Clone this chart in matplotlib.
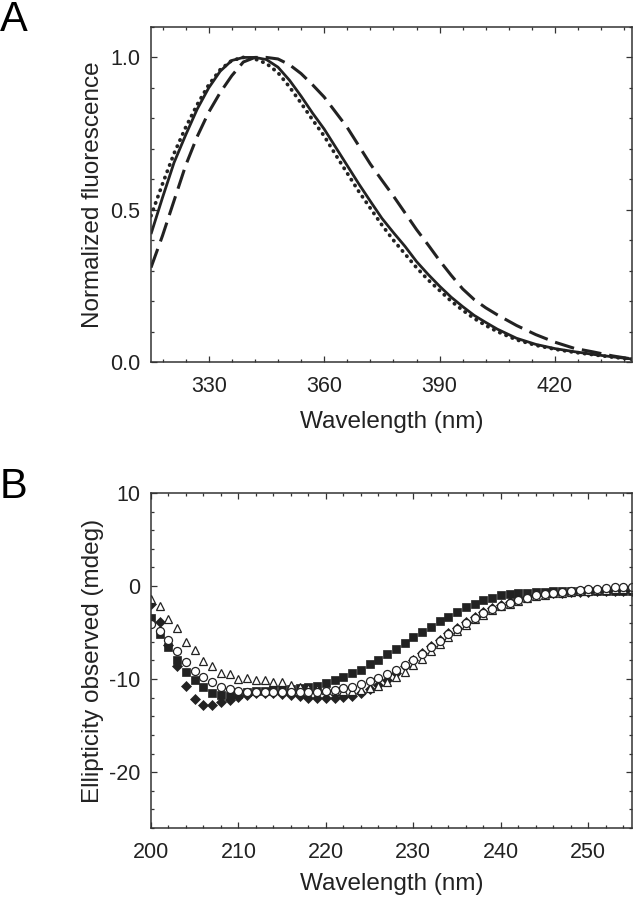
import numpy as np
import matplotlib.pyplot as plt
from matplotlib.ticker import MultipleLocator

plt.rcParams['font.family'] = ['Liberation Sans', 'DejaVu Sans']
plt.rcParams['axes.unicode_minus'] = False

INK = '#222222'

# Panel A: normalized fluorescence spectra
wl_fl = [315, 318, 321, 324, 327, 330, 333, 336, 339, 342, 345, 348, 351, 354,
         357, 360, 363, 366, 369, 372, 375, 378, 381, 384, 387, 390, 393, 396,
         399, 402, 405, 410, 415, 420, 425, 430, 435, 440]
fl_solid = [0.42, 0.54, 0.655, 0.745, 0.83, 0.90, 0.955, 0.99, 1.0, 1.0, 0.993,
            0.968, 0.925, 0.873, 0.817, 0.765, 0.705, 0.645, 0.585, 0.528,
            0.472, 0.425, 0.38, 0.33, 0.288, 0.249, 0.213, 0.182, 0.153, 0.13,
            0.108, 0.078, 0.058, 0.044, 0.034, 0.025, 0.017, 0.01]
fl_dotted = [0.48, 0.585, 0.685, 0.77, 0.845, 0.91, 0.96, 0.99, 1.0, 0.995,
             0.98, 0.95, 0.903, 0.85, 0.795, 0.742, 0.68, 0.62, 0.56, 0.505,
             0.45, 0.40, 0.355, 0.31, 0.27, 0.235, 0.2, 0.17, 0.143, 0.12, 0.1,
             0.073, 0.055, 0.042, 0.032, 0.024, 0.016, 0.009]
fl_dashed = [0.31, 0.415, 0.53, 0.645, 0.74, 0.82, 0.885, 0.94, 0.985, 1.0,
             1.0, 0.995, 0.976, 0.947, 0.91, 0.87, 0.82, 0.77, 0.71, 0.65,
             0.597, 0.545, 0.49, 0.435, 0.385, 0.333, 0.285, 0.24, 0.205,
             0.178, 0.155, 0.12, 0.09, 0.065, 0.045, 0.033, 0.02, 0.01]

# Panel B: CD spectra, 200-255 nm in 1 nm steps
wl_cd = list(range(200, 256))
cd_square = [-3.4, -5.2, -6.6, -8.0, -9.2, -10.1, -10.8, -11.5, -11.7, -11.8,
             -11.6, -11.4, -11.3, -11.3, -11.2, -11.2, -11.1, -11.0, -10.9,
             -10.7, -10.45, -10.1, -9.8, -9.4, -9.0, -8.4, -7.9, -7.3, -6.75,
             -6.1, -5.5, -4.9, -4.4, -3.8, -3.3, -2.8, -2.3, -1.9, -1.5, -1.25,
             -1.0, -0.9, -0.8, -0.7, -0.65, -0.6, -0.55, -0.55, -0.5, -0.5,
             -0.5, -0.5, -0.5, -0.5, -0.5, -0.5]
cd_diamond = [-1.9, -3.9, -6.3, -8.6, -10.7, -12.1, -12.75, -12.75, -12.5,
              -12.2, -11.9, -11.7, -11.55, -11.5, -11.5, -11.6, -11.7, -11.8,
              -12.0, -12.0, -12.0, -12.0, -11.9, -11.8, -11.55, -11.1, -10.6,
              -10.1, -9.4, -8.65, -7.9, -7.2, -6.5, -5.8, -5.1, -4.5, -3.9,
              -3.3, -2.8, -2.4, -2.0, -1.7, -1.4, -1.2, -1.0, -0.85, -0.75,
              -0.7, -0.65, -0.6, -0.6, -0.55, -0.55, -0.55, -0.55, -0.55]
cd_circle = [-4.1, -4.8, -5.8, -7.0, -8.2, -9.1, -9.8, -10.3, -10.8, -11.1,
             -11.3, -11.4, -11.4, -11.4, -11.4, -11.4, -11.4, -11.4, -11.4,
             -11.35, -11.3, -11.2, -11.0, -10.8, -10.5, -10.2, -9.9, -9.5,
             -9.0, -8.5, -7.9, -7.3, -6.6, -5.9, -5.2, -4.6, -4.0, -3.4, -2.9,
             -2.5, -2.1, -1.8, -1.5, -1.25, -1.0, -0.85, -0.7, -0.6, -0.5,
             -0.42, -0.35, -0.27, -0.2, -0.12, -0.1, -0.08]
cd_triangle = [-1.4, -2.1, -3.6, -4.5, -6.0, -6.9, -8.1, -8.6, -9.4, -9.5,
               -10.0, -9.9, -10.1, -10.05, -10.3, -10.35, -10.6, -10.8, -11.0,
               -11.1, -11.2, -11.25, -11.3, -11.3, -11.2, -11.0, -10.7, -10.3,
               -9.8, -9.2, -8.5, -7.8, -7.0, -6.2, -5.5, -4.8, -4.2, -3.6,
               -3.1, -2.6, -2.2, -1.9, -1.6, -1.3, -1.1, -0.95, -0.8, -0.7,
               -0.6, -0.55, -0.5, -0.45, -0.4, -0.35, -0.3, -0.3]


def style_axes(ax, xmaj, xmin, ymaj, ymin):
    for sp in ax.spines.values():
        sp.set_linewidth(1.1)
        sp.set_color('#333333')
    ax.xaxis.set_major_locator(MultipleLocator(xmaj))
    ax.xaxis.set_minor_locator(MultipleLocator(xmin))
    ax.yaxis.set_major_locator(MultipleLocator(ymaj))
    ax.yaxis.set_minor_locator(MultipleLocator(ymin))
    ax.tick_params(which='both', direction='in', top=True, right=True,
                   colors='#333333', labelcolor=INK, width=0.9)
    ax.tick_params(which='major', length=4.2, labelsize=15.5)
    ax.tick_params(which='minor', length=2.3)
    ax.tick_params(axis='x', which='major', pad=10)
    ax.tick_params(axis='y', which='major', pad=8)


fig = plt.figure(figsize=(6.36, 8.99), dpi=100)
ax1 = fig.add_axes([0.2374, 0.5973, 0.7563, 0.3727])
ax2 = fig.add_axes([0.2374, 0.0790, 0.7563, 0.3727])

ax1.plot(wl_fl, fl_solid, color=INK, lw=2.0, solid_capstyle='butt')
ax1.plot(wl_fl, fl_dotted, color=INK, lw=2.7, linestyle=(0, (0.1, 1.7)),
         dash_capstyle='round')
ax1.plot(wl_fl, fl_dashed, color=INK, lw=2.2, linestyle=(0, (6.5, 2.6)))
ax1.set_xlim(315, 440)
ax1.set_ylim(0, 1.1)
style_axes(ax1, 30, 6, 0.5, 0.1)
ax1.yaxis.set_major_formatter(plt.FormatStrFormatter('%.1f'))
ax1.set_xlabel('Wavelength (nm)', fontsize=17.5, color=INK)
ax1.set_ylabel('Normalized fluorescence', fontsize=17.5, color=INK)
ax1.xaxis.set_label_coords(0.5, -0.145)
ax1.yaxis.set_label_coords(-0.097, 0.5)

ax2.plot(wl_cd, cd_square, 's', ms=5.6, color=INK, mec=INK, mew=0.5)
ax2.plot(wl_cd, cd_diamond, 'D', ms=5.2, color=INK, mec=INK, mew=0.5)
ax2.plot(wl_cd, cd_triangle, '^', ms=6.0, mfc='white', mec=INK, mew=0.9)
ax2.plot(wl_cd, cd_circle, 'o', ms=5.8, mfc='white', mec=INK, mew=0.9)
ax2.set_xlim(200, 255)
ax2.set_ylim(-26, 10)
style_axes(ax2, 10, 2, 10, 2)
ax2.set_xlabel('Wavelength (nm)', fontsize=17.5, color=INK)
ax2.set_ylabel('Ellipticity observed (mdeg)', fontsize=17.5, color=INK)
ax2.xaxis.set_label_coords(0.5, -0.134)
ax2.yaxis.set_label_coords(-0.097, 0.5)

fig.text(0.0, 1 - 20 / 899, 'A', fontsize=30, ha='left', va='center', color='black')
fig.text(0.0, 1 - 487 / 899, 'B', fontsize=30, ha='left', va='center', color='black')

fig.savefig('out.png', dpi=100)
